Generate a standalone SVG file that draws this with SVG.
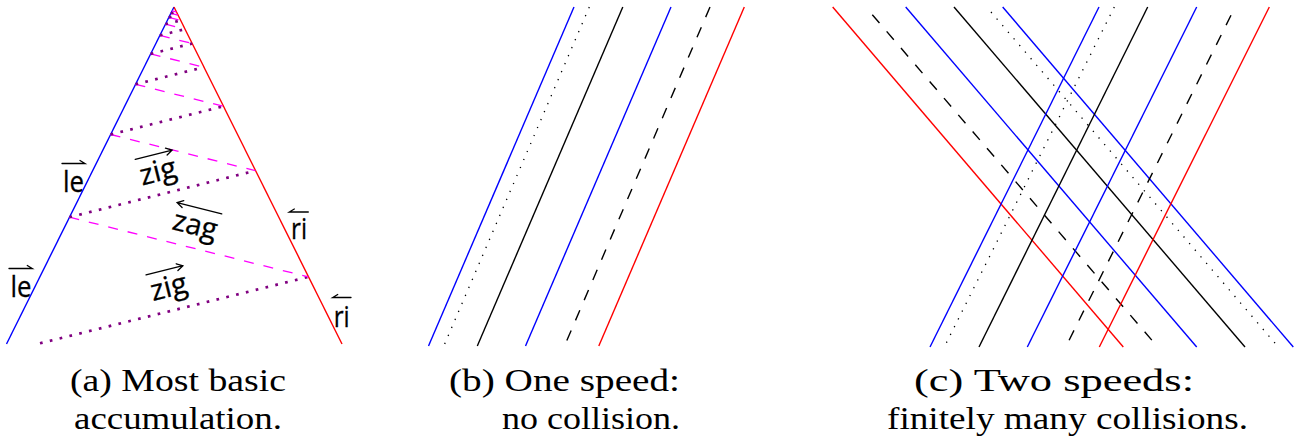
<svg xmlns="http://www.w3.org/2000/svg" width="1303" height="443" viewBox="0 0 1303 443">
<style>
.bl{stroke:#0000ff;stroke-width:1.4;fill:none}
.rd{stroke:#ff0000;stroke-width:1.4;fill:none}
.bk{stroke:#000;stroke-width:1.4;fill:none}
.dsh{stroke:#000;stroke-width:1.4;fill:none;stroke-dasharray:11 11}
.dot{stroke:#000;stroke-width:1.3;fill:none;stroke-dasharray:1.3 7.4}
.zig{stroke:#800080;stroke-width:2.7;fill:none;stroke-dasharray:2.7 7.4}
.zag{stroke:#ff00ff;stroke-width:1.3;fill:none;stroke-dasharray:10 10}
.ar{stroke:#000;stroke-width:1.3;fill:none;stroke-linecap:round}
.lab{font-family:'Open Sans','DejaVu Sans',sans-serif;font-size:29px;fill:#000;stroke:#000;stroke-width:0.3;text-anchor:middle}
.cap{font-family:'Liberation Serif','DejaVu Serif',serif;font-size:31px;fill:#000}
</style>
<rect width="1303" height="443" fill="#fff"/>

<g id="panel-a">
  <g id="signals-a">
    <path class="bl" d="M174 7 L6.5 344"/>
    <path class="rd" d="M174 7 L342 344"/>
  </g>
  <g id="zigzag">
    <path class="zig" d="M40 343.3 L308.3 276.9"/>
    <path class="zag" d="M69.4 217.2 L308.3 276.9"/>
    <path class="zig" d="M69.4 217.2 L255.4 170.7"/>
    <path class="zag" d="M110.6 134.5 L255.4 170.7"/>
    <path class="zig" d="M110.6 134.5 L223.4 106.3"/>
    <path class="zag" d="M135.5 84.3 L223.4 106.3"/>
    <path class="zig" d="M135.5 84.3 L203.9 67.2"/>
    <path class="zag" d="M150.7 53.9 L203.9 67.2"/>
    <path class="zig" d="M150.7 53.9 L192.2 43.5"/>
    <path class="zag" d="M159.9 35.4 L192.2 43.5"/>
    <path class="zig" d="M159.9 35.4 L185 29.1"/>
    <path class="zag" d="M165.4 24.2 L185 29.1"/>
    <path class="zig" d="M165.4 24.2 L180.7 20.4"/>
    <path class="zag" d="M168.8 17.4 L180.7 20.4"/>
    <path class="zig" d="M168.8 17.4 L178 15.1"/>
    <path class="zag" d="M170.9 13.3 L178 15.1"/>
    <path class="zig" d="M170.9 13.3 L176.4 11.9"/>
    <path class="zag" d="M172.1 10.8 L176.4 11.9"/>
  </g>
  <g id="label-le1">
    <text class="lab" x="73.5" y="191.5" textLength="21" lengthAdjust="spacingAndGlyphs">le</text>
    <path class="ar" d="M62 163.5 H85 l-5 -3"/>
  </g>
  <g id="label-le2">
    <text class="lab" x="21" y="296.5" textLength="21" lengthAdjust="spacingAndGlyphs">le</text>
    <path class="ar" d="M9 268.5 H32.3 l-5 -3"/>
  </g>
  <g id="label-ri1">
    <text class="lab" x="299" y="239.3" textLength="16" lengthAdjust="spacingAndGlyphs">ri</text>
    <path class="ar" d="M308.3 212 H289.3 l5 -3"/>
  </g>
  <g id="label-ri2">
    <text class="lab" x="341.7" y="326.7" textLength="16" lengthAdjust="spacingAndGlyphs">ri</text>
    <path class="ar" d="M351 297.5 H332.7 l5 -3"/>
  </g>
  <g id="label-zig1" transform="translate(160.2 180.9) rotate(-14)">
    <text class="lab" x="0" y="0" textLength="37" lengthAdjust="spacingAndGlyphs">zig</text>
    <path class="ar" d="M-19 -27 H19 M13 -30.5 L19 -27 L13 -23.5"/>
  </g>
  <g id="label-zag" transform="translate(192.9 234.4) rotate(14)">
    <text class="lab" x="0" y="0" textLength="45" lengthAdjust="spacingAndGlyphs">zag</text>
    <path class="ar" d="M23 -27 H-23 M-17 -30.5 L-23 -27 L-17 -23.5"/>
  </g>
  <g id="label-zig2" transform="translate(171 296.5) rotate(-14)">
    <text class="lab" x="0" y="0" textLength="37" lengthAdjust="spacingAndGlyphs">zig</text>
    <path class="ar" d="M-19 -27 H19 M13 -30.5 L19 -27 L13 -23.5"/>
  </g>
</g>

<g id="panel-b">
  <path class="bl" d="M574 7 L428.5 346"/>
  <path class="dot" d="M589.3 7 L443.8 346"/>
  <path class="bk" d="M622.8 7 L477.3 346"/>
  <path class="bl" d="M671 7 L525.5 346"/>
  <path class="dsh" d="M710 7 L564.5 346"/>
  <path class="rd" d="M744.3 7 L598.8 346"/>
</g>

<g id="panel-c">
  <g id="down-lines">
    <path class="rd" d="M832.7 7 L1123.3 347"/>
    <path class="dsh" d="M872.3 14.7 L1157.7 347"/>
    <path class="bl" d="M905.7 7 L1196.7 347"/>
    <path class="bk" d="M954 7 L1245 347"/>
    <path class="dot" d="M991 12 L1278.3 347"/>
    <path class="bl" d="M1002.7 7 L1293.3 347"/>
  </g>
  <g id="up-lines">
    <path class="bl" d="M1099 7 L930 347"/>
    <path class="dot" d="M1114.3 7 L944.3 347"/>
    <path class="bk" d="M1147.7 7 L979 347"/>
    <path class="bl" d="M1196.7 7 L1027.3 347"/>
    <path class="dsh" d="M1231 15.3 L1065.7 347"/>
    <path class="rd" d="M1269.3 7 L1099.3 347"/>
  </g>
</g>

<g id="captions">
  <text class="cap" x="70" y="391" textLength="216" lengthAdjust="spacingAndGlyphs">(a) Most basic</text>
  <text class="cap" x="74" y="429" textLength="208" lengthAdjust="spacingAndGlyphs">accumulation.</text>
  <text class="cap" x="449" y="391" textLength="231" lengthAdjust="spacingAndGlyphs">(b) One speed:</text>
  <text class="cap" x="502" y="429" textLength="178" lengthAdjust="spacingAndGlyphs">no collision.</text>
  <text class="cap" x="914" y="391" textLength="280" lengthAdjust="spacingAndGlyphs">(c) Two speeds:</text>
  <text class="cap" x="887" y="429" textLength="361" lengthAdjust="spacingAndGlyphs">finitely many collisions.</text>
</g>
</svg>
